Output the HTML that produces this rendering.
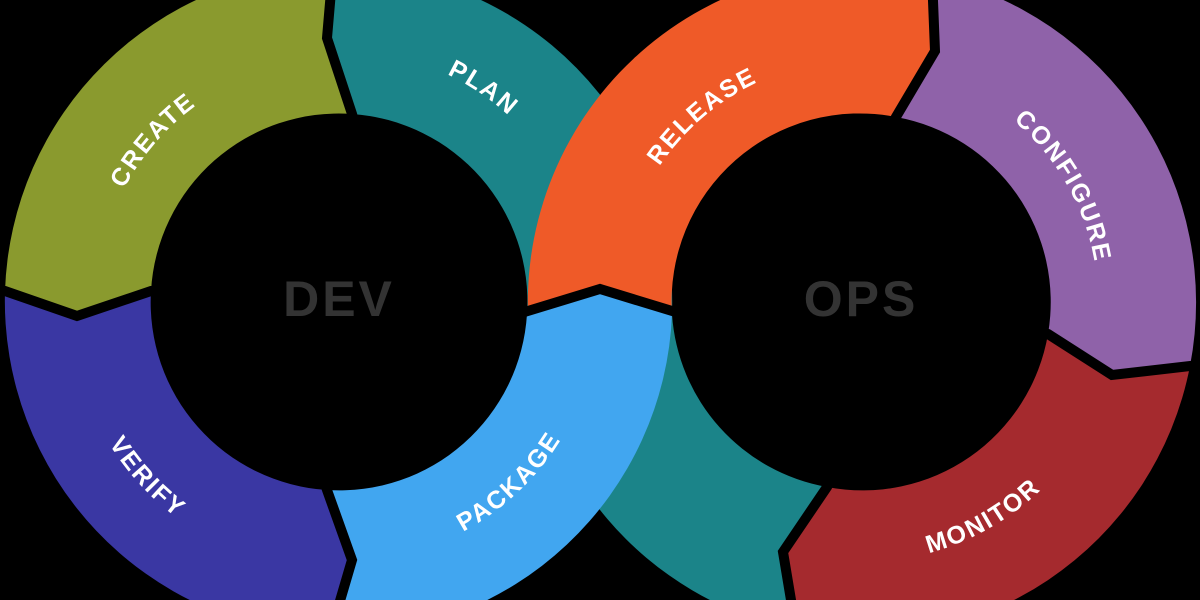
<!DOCTYPE html>
<html><head><meta charset="utf-8"><style>
html,body{margin:0;padding:0;background:#000;width:1200px;height:600px;overflow:hidden;}
svg{display:block;}
.l{font-family:"Liberation Sans",sans-serif;font-weight:bold;font-size:25px;fill:#fff;letter-spacing:2px;}
.c{font-family:"Liberation Sans",sans-serif;font-weight:bold;font-size:50px;fill:#333;letter-spacing:3px;}
</style></head><body>
<svg width="1200" height="600" viewBox="0 0 1200 600" xmlns="http://www.w3.org/2000/svg">
<rect width="1200" height="600" fill="#000"/>
<defs>
<path id="pCreate" d="M109.2,381.1 A243,243 0 0 1 385.4,63.5"/>
<path id="pPlan" d="M228.5,75.5 A252,252 0 0 1 590.4,319.6"/>
<path id="pVerify" d="M81.6,220.4 A270,270 0 0 0 397,565.7"/>
<path id="pPackage" d="M264.4,552.1 A261,261 0 0 0 592.9,241.5"/>
<path id="pRelease" d="M622.1,346.3 A243,243 0 0 1 942.1,72.9"/>
<path id="pConfigure" d="M862.2,65 A237,237 0 0 1 1065.6,421.6"/>
<path id="pMonitor" d="M729.4,526.3 A260,260 0 0 0 1121,303.8"/>
</defs>
<path fill="#1b8489" d="M333,-32 A334,334 0 0 1 672,314 L600,289 L527,314 A188,188 0 0 0 352,114 L327,38 Z"/>
<path fill="#1b8489" d="M796,630 A334,334 0 0 1 528,314 L600,289 L672,314 A188,188 0 0 0 827,487 L783,552 Z"/>
<path fill="#8a9a2e" d="M5,291 A334,334 0 0 1 333,-32 L327,38 L352,114 A188,188 0 0 0 151,291 L77,316 Z"/>
<path fill="#3a37a3" d="M330,635 A334,334 0 0 1 5,291 L77,316 L151,291 A188,188 0 0 0 327,490 L352,560 Z"/>
<path fill="#41a6f0" d="M672,314 A334,334 0 0 1 330,635 L352,560 L327,490 A188,188 0 0 0 527,314 L600,289 Z"/>
<path fill="#ef5a28" d="M528,314 A334,334 0 0 1 932,-24 L935,51 L896,117 A188,188 0 0 0 672,314 L600,289 Z"/>
<path fill="#8f62a9" d="M932,-24 A334,334 0 0 1 1190,366 L1112,375 L1048,334 A188,188 0 0 0 896,117 L935,51 Z"/>
<path fill="#a52a2e" d="M1190,366 A334,334 0 0 1 796,630 L783,552 L827,487 A188,188 0 0 0 1048,334 L1112,375 Z"/>
<g fill="none" stroke="#000" stroke-width="10" stroke-linejoin="miter">
<polyline points="335,-50 333,-32 327,38 352,114 355,125"/>
<polyline points="-8,291 5,291 77,316 151,291 162,291"/>
<polyline points="326,650 330,635 352,560 327,490 323,478"/>
<polyline points="518,314 600,289 682,314"/>
<polyline points="931,-40 932,-24 935,51 896,117 890,128"/>
<polyline points="1205,366 1190,366 1112,375 1048,334 1038,330"/>
<polyline points="799,645 796,630 783,552 827,487 832,478"/>
</g>
<text class="l"><textPath href="#pCreate" startOffset="50%" text-anchor="middle">CREATE</textPath></text>
<text class="l"><textPath href="#pPlan" startOffset="50%" text-anchor="middle">PLAN</textPath></text>
<text class="l"><textPath href="#pVerify" startOffset="50%" text-anchor="middle">VERIFY</textPath></text>
<text class="l"><textPath href="#pPackage" startOffset="50%" text-anchor="middle">PACKAGE</textPath></text>
<text class="l"><textPath href="#pRelease" startOffset="50%" text-anchor="middle">RELEASE</textPath></text>
<text class="l"><textPath href="#pConfigure" startOffset="50%" text-anchor="middle">CONFIGURE</textPath></text>
<text class="l"><textPath href="#pMonitor" startOffset="50%" text-anchor="middle">MONITOR</textPath></text>
<text class="c" x="339" y="316" text-anchor="middle">DEV</text>
<text class="c" x="861" y="316" text-anchor="middle">OPS</text>
</svg>
</body></html>
